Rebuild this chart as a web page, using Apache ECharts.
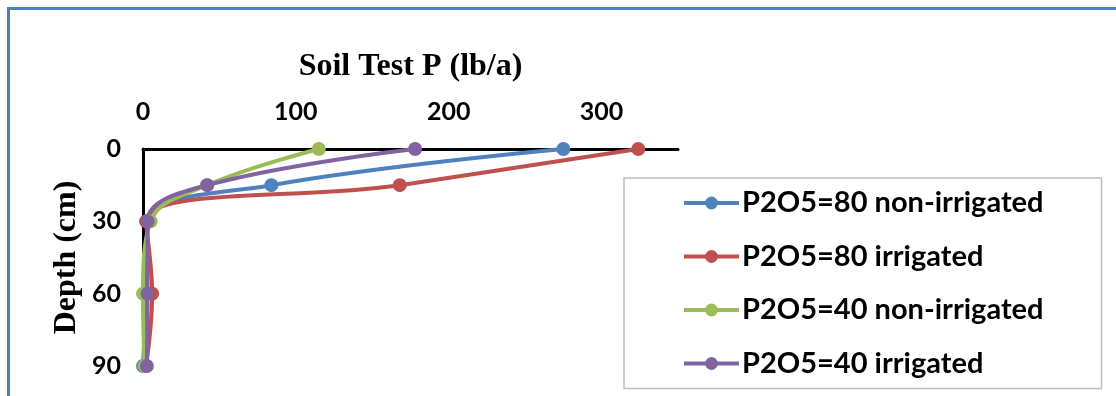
<!DOCTYPE html>
<html>
<head>
<meta charset="utf-8">
<script src="https://cdn.jsdelivr.net/npm/echarts@6/dist/echarts.min.js"></script>
<style>
  html, body { margin: 0; padding: 0; background: #fff; }
  #frame { position: absolute; left: 7px; top: 7px; right: -10px; bottom: -10px;
           border-left: 3px solid #4f81bd; border-top: 3px solid #4f81bd; }
  #chart { position: absolute; left: 0; top: 0; width: 1116px; height: 396px; }
</style>
</head>
<body>
<div id="frame"></div>
<div id="chart"></div>
<script>
const depths = [0, 15, 30, 60, 90];
const seriesNames = [
    'P2O5=80 non-irrigated',
    'P2O5=80 irrigated',
    'P2O5=40 non-irrigated',
    'P2O5=40 irrigated'
];
const n80Dry = [275, 84, 3, 2, 0];
const n80Wet = [324, 168, 2, 6, 2];
const n40Dry = [115, 42, 5, 0, 1];
const n40Wet = [178, 42, 3, 3, 2.5];
const colors = ['#4f81bd', '#c0504d', '#9bbb59', '#8064a2'];

const chart = echarts.init(document.getElementById('chart'));

const makeSeries = (name, vals, color) => ({
    name: name,
    type: 'line',
    smooth: 0.4,
    symbol: 'circle',
    symbolSize: 14,
    lineStyle: { width: 4, color: color },
    itemStyle: { color: color },
    data: vals.map((v, i) => [v, depths[i]])
});

const option = {
    animation: false,
    backgroundColor: 'transparent',
    grid: { left: 143, top: 149, width: 535, height: 217 },
    xAxis: {
        type: 'value',
        position: 'top',
        min: 0,
        max: 350,
        interval: 100,
        name: 'Soil Test P (lb/a)',
        nameLocation: 'middle',
        nameGap: 66,
        nameTextStyle: { fontFamily: 'Liberation Serif', fontWeight: 'bold', fontSize: 32, color: '#000' },
        axisLine: { show: true, lineStyle: { color: '#000', width: 3 } },
        axisTick: { show: false },
        splitLine: { show: false },
        axisLabel: {
            showMaxLabel: false,
            margin: 25,
            fontFamily: 'Lato', fontWeight: 'bold', fontSize: 25, color: '#000'
        }
    },
    yAxis: {
        type: 'value',
        inverse: true,
        min: 0,
        max: 90,
        interval: 30,
        name: 'Depth (cm)',
        nameLocation: 'middle',
        nameGap: 60,
        nameTextStyle: { fontFamily: 'Liberation Serif', fontWeight: 'bold', fontSize: 32, color: '#000' },
        axisLine: { show: true, lineStyle: { color: '#000', width: 3 } },
        axisTick: { show: false },
        splitLine: { show: false },
        axisLabel: {
            margin: 22,
            fontFamily: 'Lato', fontWeight: 'bold', fontSize: 25, color: '#000'
        }
    },
    legend: {
        orient: 'vertical',
        left: 624,
        top: 178,
        padding: [10, 58, 10, 58],
        borderColor: '#bfbfbf',
        borderWidth: 1.5,
        backgroundColor: '#fff',
        itemWidth: 55,
        itemHeight: 16,
        itemGap: 23.5,
        lineStyle: { width: 4 },
        data: seriesNames,
        textStyle: {
            fontFamily: 'Lato', fontWeight: 'bold', fontSize: 29, lineHeight: 30,
            color: '#000', padding: [0, 0, 0, -2]
        }
    },
    series: [
        makeSeries(seriesNames[0], n80Dry, colors[0]),
        makeSeries(seriesNames[1], n80Wet, colors[1]),
        makeSeries(seriesNames[2], n40Dry, colors[2]),
        makeSeries(seriesNames[3], n40Wet, colors[3])
    ]
};
chart.setOption(option);
</script>
</body>
</html>
